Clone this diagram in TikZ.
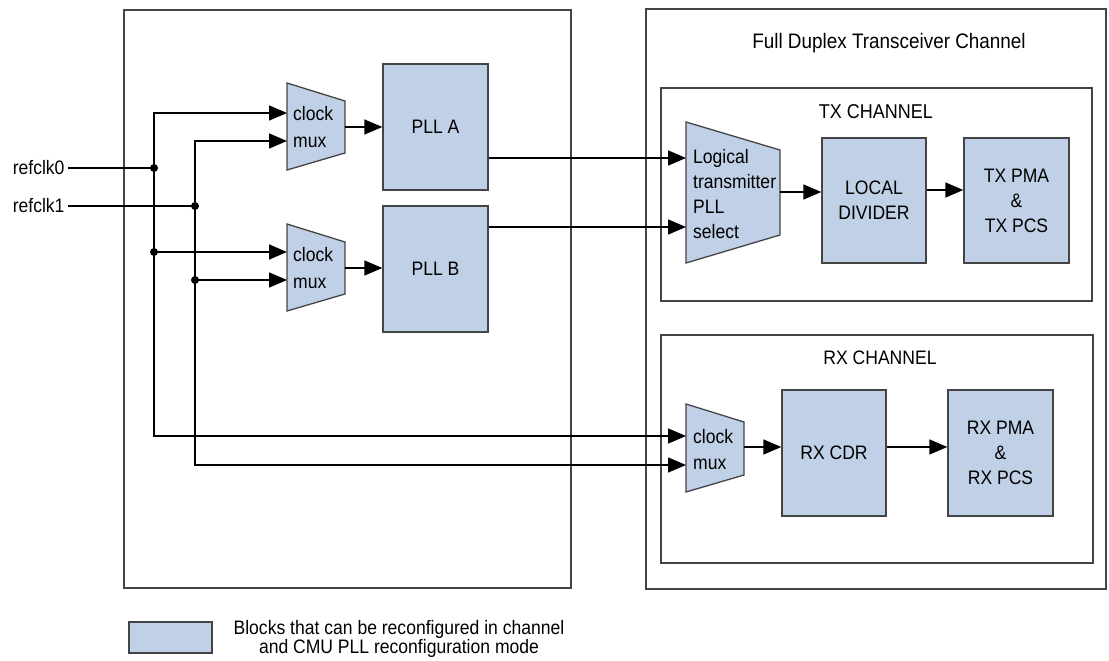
\documentclass[tikz,border=0pt]{standalone}
\usepackage{fontspec}
\setmainfont{Liberation Sans}[FakeStretch=0.9]
\usetikzlibrary{arrows.meta}
\definecolor{blockfill}{RGB}{192,208,230}
\definecolor{edgegray}{RGB}{68,68,68}
\newcommand{\labelFont}[0]{\fontsize{19.5}{25}\selectfont}

\begin{document}
\begin{tikzpicture}[x=1pt, y=-1pt, font=\labelFont]
  \tikzset{
    frame/.style={draw=edgegray, line width=1.5pt},
    block/.style={draw=edgegray, fill=blockfill, line width=1.3pt, align=center, inner sep=0pt},
    muxshape/.style={draw=edgegray, fill=blockfill, line width=1.3pt, line join=miter},
    muxtext/.style={anchor=west, align=left, inner sep=0pt},
    wire/.style={draw=black, line width=1.4pt},
    arr/.style={-{Triangle[length=18pt, width=15pt]}},
    arrs/.style={{Triangle[length=18pt, width=15pt]}-{Triangle[length=18pt, width=15pt]}},
    junction/.style={circle, fill=black, inner sep=0pt, minimum size=8pt},
    clkname/.style={anchor=east, inner sep=0pt, outer sep=3.5pt}
  }
  \useasboundingbox (0,0) rectangle (1109,661);

  \draw[frame] (124,10) rectangle (571,588);
  \draw[frame] (646,9) rectangle (1106,589);
  \draw[frame] (661,88) rectangle (1092,301);
  \draw[frame] (661,335) rectangle (1093,563);

  \node[font=\fontsize{21}{25}\selectfont] (fdlabel) at (889,43) {Full Duplex Transceiver Channel};
  \node[font=\fontsize{20}{25}\selectfont] (txlabel) at (876,112) {TX CHANNEL};
  \node (rxlabel) at (880,358) {RX CHANNEL};

  \node[block, minimum width=105pt, minimum height=126pt] (pllA) at (435.5,127) {PLL A};
  \node[block, minimum width=105pt, minimum height=126pt] (pllB) at (435.5,269) {PLL B};
  \node[block, minimum width=104pt, minimum height=125pt] (localdiv) at (874,200.5) {LOCAL\\DIVIDER};
  \node[block, minimum width=105pt, minimum height=125pt] (txpma) at (1016.5,200.5) {TX PMA\\\&\\TX PCS};
  \node[block, minimum width=104pt, minimum height=126pt] (rxcdr) at (834,453) {RX CDR};
  \node[block, minimum width=105pt, minimum height=126pt] (rxpma) at (1000.5,453) {RX PMA\\\&\\RX PCS};

  \draw[muxshape] (287,83) -- (345,101) -- (345,153) -- (287,170) -- cycle;
  \node[muxtext, font=\fontsize{19.5}{27}\selectfont] (muxA) at (293,127) {clock\\mux};
  \coordinate (muxA-in1) at (287,113);
  \coordinate (muxA-in2) at (287,141);
  \coordinate (muxA-out) at (345,127);

  \draw[muxshape] (287,224) -- (345,242) -- (345,294) -- (287,311) -- cycle;
  \node[muxtext, font=\fontsize{19.5}{27}\selectfont] (muxB) at (293,268) {clock\\mux};
  \coordinate (muxB-in1) at (287,252);
  \coordinate (muxB-in2) at (287,280);
  \coordinate (muxB-out) at (345,268);

  \draw[muxshape] (686,122) -- (780,150) -- (780,235) -- (686,263) -- cycle;
  \node[muxtext] (txsel) at (693,194) {Logical\\transmitter\\PLL\\select};
  \coordinate (txsel-in1) at (686,158);
  \coordinate (txsel-in2) at (686,227);
  \coordinate (txsel-out) at (780,192);

  \draw[muxshape] (686,404) -- (744,422) -- (744,475) -- (686,492) -- cycle;
  \node[muxtext, font=\fontsize{19.5}{26}\selectfont] (rxmux) at (693,450) {clock\\mux};
  \coordinate (rxmux-in1) at (686,436);
  \coordinate (rxmux-in2) at (686,465);
  \coordinate (rxmux-out) at (744,447);

  \node[clkname] (refclk0) at (68,168) {refclk0};
  \node[clkname] (refclk1) at (68,206) {refclk1};
  \node[junction] (j0a) at (154,168) {};
  \node[junction] (j0b) at (154,252) {};
  \node[junction] (j1a) at (195,206) {};
  \node[junction] (j1b) at (195,280) {};

  \draw[wire] (refclk0.east) -- (j0a.center);
  \draw[wire] (refclk1.east) -- (j1a.center);
  \draw[wire, arrs] (muxA-in1) -| (j0a.center) |- (rxmux-in1);
  \draw[wire, arrs] (muxA-in2) -| (j1a.center) |- (rxmux-in2);
  \draw[wire, arr] (j0b.center) -- (muxB-in1);
  \draw[wire, arr] (j1b.center) -- (muxB-in2);

  \draw[wire, arr] (muxA-out) -- (muxA-out -| pllA.west);
  \draw[wire, arr] (muxB-out) -- (muxB-out -| pllB.west);
  \draw[wire, arr] (pllA.east |- txsel-in1) -- (txsel-in1);
  \draw[wire, arr] (pllB.east |- txsel-in2) -- (txsel-in2);
  \draw[wire, arr] (txsel-out) -- (txsel-out -| localdiv.west);
  \draw[wire, arr] (localdiv.east |- 0,190) -- (txpma.west |- 0,190);
  \draw[wire, arr] (rxmux-out) -- (rxmux-out -| rxcdr.west);
  \draw[wire, arr] (rxcdr.east |- rxmux-out) -- (rxpma.west |- rxmux-out);

  \node[block, minimum width=83pt, minimum height=31pt] (legendbox) at (170.5,637.5) {};
  \node[align=center, font=\fontsize{19.5}{18}\selectfont] (legendtext) at (399,639) {Blocks that can be reconfigured in channel\\and CMU PLL reconfiguration mode};
\end{tikzpicture}
\end{document}
